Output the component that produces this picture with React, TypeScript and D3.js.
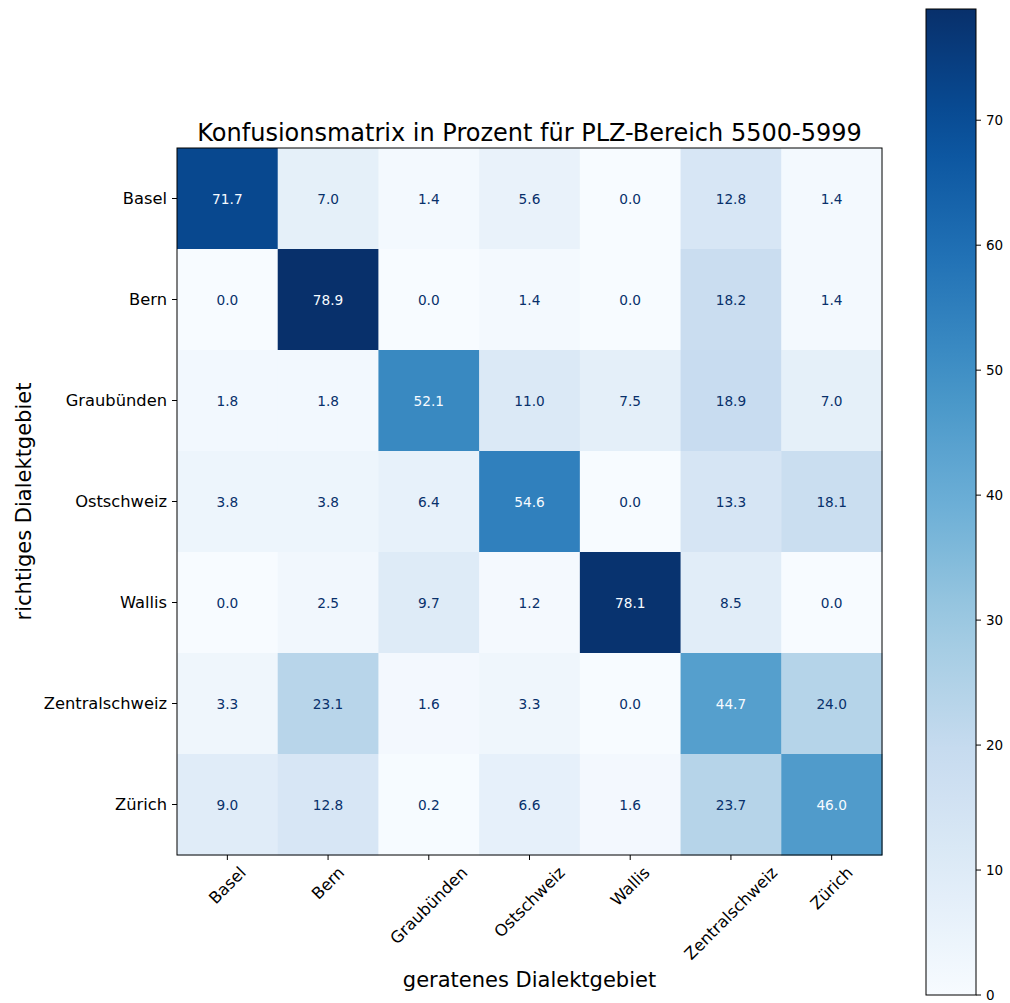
import React, { useEffect, useRef } from "react";
import * as d3 from "d3";

const labels = ["Basel", "Bern", "Graubünden", "Ostschweiz", "Wallis", "Zentralschweiz", "Zürich"];
const rowBasel = [71.7, 7.0, 1.4, 5.6, 0.0, 12.8, 1.4];
const rowBern = [0.0, 78.9, 0.0, 1.4, 0.0, 18.2, 1.4];
const rowGraubuenden = [1.8, 1.8, 52.1, 11.0, 7.5, 18.9, 7.0];
const rowOstschweiz = [3.8, 3.8, 6.4, 54.6, 0.0, 13.3, 18.1];
const rowWallis = [0.0, 2.5, 9.7, 1.2, 78.1, 8.5, 0.0];
const rowZentralschweiz = [3.3, 23.1, 1.6, 3.3, 0.0, 44.7, 24.0];
const rowZuerich = [9.0, 12.8, 0.2, 6.6, 1.6, 23.7, 46.0];
const matrix = [rowBasel, rowBern, rowGraubuenden, rowOstschweiz, rowWallis, rowZentralschweiz, rowZuerich];
const colorbarTicks = [0, 10, 20, 30, 40, 50, 60, 70];
const title = "Konfusionsmatrix in Prozent für PLZ-Bereich 5500-5999";
const xLabel = "geratenes Dialektgebiet";
const yLabel = "richtiges Dialektgebiet";

const blues = ["#f7fbff", "#deebf7", "#c6dbef", "#9ecae1", "#6baed6", "#4292c6", "#2171b5", "#08519c", "#08306b"];

export default function App() {
  const ref = useRef<SVGSVGElement>(null);
  useEffect(() => {
    const svg = d3.select(ref.current);
    svg.selectAll("*").remove();
    const font = "DejaVu Sans, sans-serif";
    const all = matrix.flat();
    const vmin = d3.min(all)!;
    const vmax = d3.max(all)!;
    const interp = d3.piecewise(d3.interpolateRgb, blues);
    const color = d3.scaleSequential(interp).domain([vmin, vmax]);

    const left = 177, right = 882, top = 148, bottom = 855;
    const x = d3.scaleBand().domain(labels).range([left, right]);
    const y = d3.scaleBand().domain(labels).range([top, bottom]);
    const thresh = (vmin + vmax) / 2;
    const tickFs = 16.3;

    const g = svg.append("g");
    matrix.forEach((row, i) => {
      row.forEach((v, j) => {
        g.append("rect")
          .attr("x", x(labels[j])!)
          .attr("y", y(labels[i])!)
          .attr("width", x.bandwidth() + 0.5)
          .attr("height", y.bandwidth() + 0.5)
          .attr("fill", color(v));
        g.append("text")
          .attr("x", x(labels[j])! + x.bandwidth() / 2)
          .attr("y", y(labels[i])! + y.bandwidth() / 2)
          .attr("text-anchor", "middle")
          .attr("dominant-baseline", "central")
          .attr("font-family", font)
          .attr("font-size", 13.7)
          .attr("fill", v >= thresh ? blues[0] : blues[8])
          .text(v.toFixed(1));
      });
    });
    svg.append("rect")
      .attr("x", left).attr("y", top)
      .attr("width", right - left).attr("height", bottom - top)
      .attr("fill", "none").attr("stroke", "#000").attr("stroke-width", 1);

    // y ticks
    labels.forEach((l) => {
      const yy = y(l)! + y.bandwidth() / 2;
      svg.append("line").attr("x1", left - 5).attr("x2", left).attr("y1", yy).attr("y2", yy).attr("stroke", "#000");
      svg.append("text")
        .attr("x", left - 10).attr("y", yy)
        .attr("text-anchor", "end").attr("dominant-baseline", "central")
        .attr("font-family", font).attr("font-size", tickFs).attr("fill", "#000")
        .text(l);
    });
    // x ticks
    labels.forEach((l) => {
      const xx = x(l)! + x.bandwidth() / 2;
      svg.append("line").attr("x1", xx).attr("x2", xx).attr("y1", bottom).attr("y2", bottom + 5).attr("stroke", "#000");
      const t = svg.append("text")
        .attr("text-anchor", "middle").attr("dominant-baseline", "central")
        .attr("font-family", font).attr("font-size", tickFs).attr("fill", "#000")
        .text(l);
      const w = (t.node() as SVGTextElement).getComputedTextLength();
      const h = tickFs * 1.0;
      const half = (w + h) * Math.SQRT1_2 / 2;
      const cy = bottom + 9 + half;
      t.attr("transform", `translate(${xx},${cy}) rotate(-45)`);
    });

    svg.append("text")
      .attr("x", (left + right) / 2).attr("y", top - 7)
      .attr("text-anchor", "middle")
      .attr("font-family", font).attr("font-size", 24).attr("fill", "#000")
      .text(title);
    svg.append("text")
      .attr("x", (left + right) / 2).attr("y", 987)
      .attr("text-anchor", "middle")
      .attr("font-family", font).attr("font-size", 21).attr("fill", "#000")
      .text(xLabel);
    svg.append("text")
      .attr("transform", `translate(31,${(top + bottom) / 2}) rotate(-90)`)
      .attr("text-anchor", "middle")
      .attr("font-family", font).attr("font-size", 21).attr("fill", "#000")
      .text(yLabel);

    // colorbar
    const cbL = 926, cbR = 976, cbT = 9, cbB = 995;
    const cy = d3.scaleLinear().domain([vmin, vmax]).range([cbB, cbT]);
    const defs = svg.append("defs");
    const grad = defs.append("linearGradient").attr("id", "cbgrad")
      .attr("x1", 0).attr("y1", 1).attr("x2", 0).attr("y2", 0);
    d3.range(0, 1.0001, 0.05).forEach((p) => {
      grad.append("stop").attr("offset", p).attr("stop-color", interp(p));
    });
    svg.append("rect").attr("x", cbL).attr("y", cbT).attr("width", cbR - cbL).attr("height", cbB - cbT)
      .attr("fill", "url(#cbgrad)").attr("stroke", "#000").attr("stroke-width", 1);
    colorbarTicks.forEach((t) => {
      const yy = cy(t);
      svg.append("line").attr("x1", cbR).attr("x2", cbR + 5).attr("y1", yy).attr("y2", yy).attr("stroke", "#000");
      svg.append("text").attr("x", cbR + 10).attr("y", yy)
        .attr("dominant-baseline", "central")
        .attr("font-family", font).attr("font-size", 13.5).attr("fill", "#000")
        .text(String(t));
    });
  }, []);
  return (
    <svg ref={ref} width={1010} height={1003} style={{ position: "absolute", left: 0, top: 0, background: "#fff" }} />
  );
}
